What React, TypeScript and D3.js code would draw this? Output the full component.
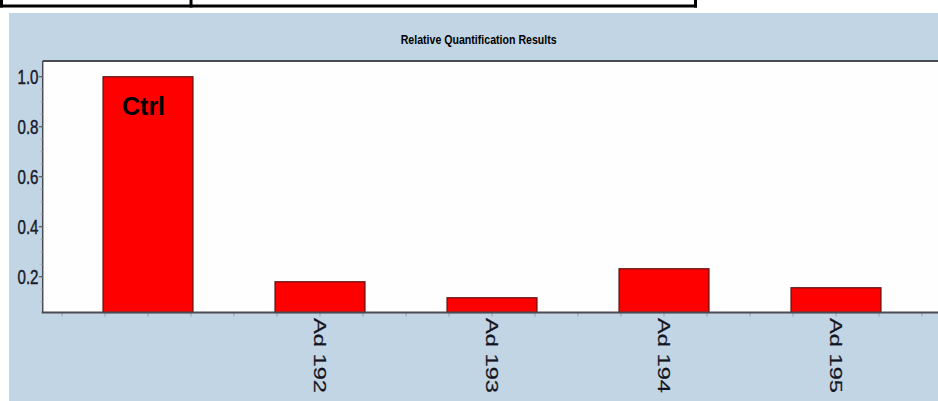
import React from 'react';
import * as d3 from 'd3';

const categories = ['Ctrl', 'Ad 192', 'Ad 193', 'Ad 194', 'Ad 195'];
const values = [1.0, 0.18, 0.116, 0.232, 0.156];
const yTicks = [0.2, 0.4, 0.6, 0.8, 1.0];
const yMinorTicks = d3.range(0.1, 1.05, 0.05);
const yDomain = [0.057, 1.063];
const title = 'Relative Quantification Results';
const insideLabel = 'Ctrl';

const W = 938;
const H = 401;

export default function App() {
  // plot frame
  const left = 42.7;
  const top = 61;
  const bottom = 312.5;

  const x = d3
    .scaleBand<string>()
    .domain(categories)
    .range([62, 922])
    .paddingInner(0.477)
    .paddingOuter(0.2385);
  const y = d3.scaleLinear().domain(yDomain).range([bottom, top]);

  const step = x.step();
  const xTickPos: number[] = [];
  for (let i = 0; i <= categories.length * 4; i++) xTickPos.push(62 + (i * step) / 4);

  return (
    <div style={{ position: 'fixed', left: 0, top: 0 }}>
      <svg width={W} height={H} style={{ display: 'block' }}>
        <rect x={0} y={0} width={W} height={H} fill="#ffffff" />

        {/* table fragment above the chart */}
        <g stroke="#000" strokeWidth={3} fill="none">
          <line x1={0} x2={697} y1={6} y2={6} />
          <line x1={1.5} x2={1.5} y1={0} y2={7.5} />
          <line x1={191} x2={191} y1={0} y2={7.5} />
          <line x1={695.5} x2={695.5} y1={0} y2={7.5} />
        </g>

        {/* panel */}
        <rect x={9} y={13} width={W - 9} height={H - 13} fill="#c2d5e4" />

        <text
          x={478.7}
          y={43.5}
          textAnchor="middle"
          fontFamily="'Liberation Sans', Arial, sans-serif"
          fontWeight="bold"
          fontSize={13}
          fill="#000"
          textLength={156}
          lengthAdjust="spacingAndGlyphs"
        >
          {title}
        </text>

        {/* plot area */}
        <rect x={left} y={top} width={W - left + 10} height={bottom - top} fill="#fefefe" />

        {/* bars */}
        {categories.map((c, i) => (
          <rect
            key={c}
            x={x(c)}
            y={y(values[i])}
            width={x.bandwidth()}
            height={bottom - y(values[i])}
            fill="#ff0000"
            stroke="#5a1212"
            strokeWidth={1.2}
          />
        ))}

        <text
          x={(x(insideLabel) ?? 0) + 19}
          y={y(values[0]) + 38}
          fontFamily="'Liberation Sans', Arial, sans-serif"
          fontWeight="bold"
          fontSize={25}
          fill="#000"
        >
          {insideLabel}
        </text>

        {/* frame lines */}
        <line x1={left} x2={W} y1={top} y2={top} stroke="#4a4a52" strokeWidth={2} />
        <line x1={left} x2={left} y1={top} y2={bottom} stroke="#4a4a52" strokeWidth={1.5} />

        {/* y axis ticks */}
        {yMinorTicks.map((t) => (
          <line key={'m' + t} x1={left - 2} x2={left} y1={y(t)} y2={y(t)} stroke="#9a9aa6" strokeWidth={1} />
        ))}
        {yTicks.map((t) => (
          <g key={t}>
            <line x1={left - 4} x2={left} y1={y(t)} y2={y(t)} stroke="#4a4a52" strokeWidth={1} />
            <text
              x={38.5}
              y={y(t) + 6.8}
              textAnchor="end"
              fontFamily="'Liberation Sans', Arial, sans-serif"
              fontSize={19.5}
              fill="#1a1a28"
              stroke="#1a1a28"
              strokeWidth={0.45}
              textLength={21}
              lengthAdjust="spacingAndGlyphs"
            >
              {t.toFixed(1)}
            </text>
          </g>
        ))}

        {/* x axis */}
        {xTickPos.map((p) => (
          <line key={'x' + p} x1={p} x2={p} y1={bottom} y2={bottom + 4} stroke="#9a9aa6" strokeWidth={1} />
        ))}
        <line x1={left - 1} x2={W} y1={bottom} y2={bottom} stroke="#4a4a52" strokeWidth={2} />

        {categories.slice(1).map((c) => {
          const cx = (x(c) ?? 0) + x.bandwidth() / 2;
          return (
            <text
              key={'l' + c}
              transform={`translate(${cx},318) rotate(90)`}
              dy="0.35em"
              fontFamily="'Liberation Sans', Arial, sans-serif"
              fontSize={17}
              fill="#141420"
              stroke="#141420"
              strokeWidth={0.2}
              textLength={75}
              lengthAdjust="spacingAndGlyphs"
            >
              {c}
            </text>
          );
        })}
      </svg>
    </div>
  );
}
